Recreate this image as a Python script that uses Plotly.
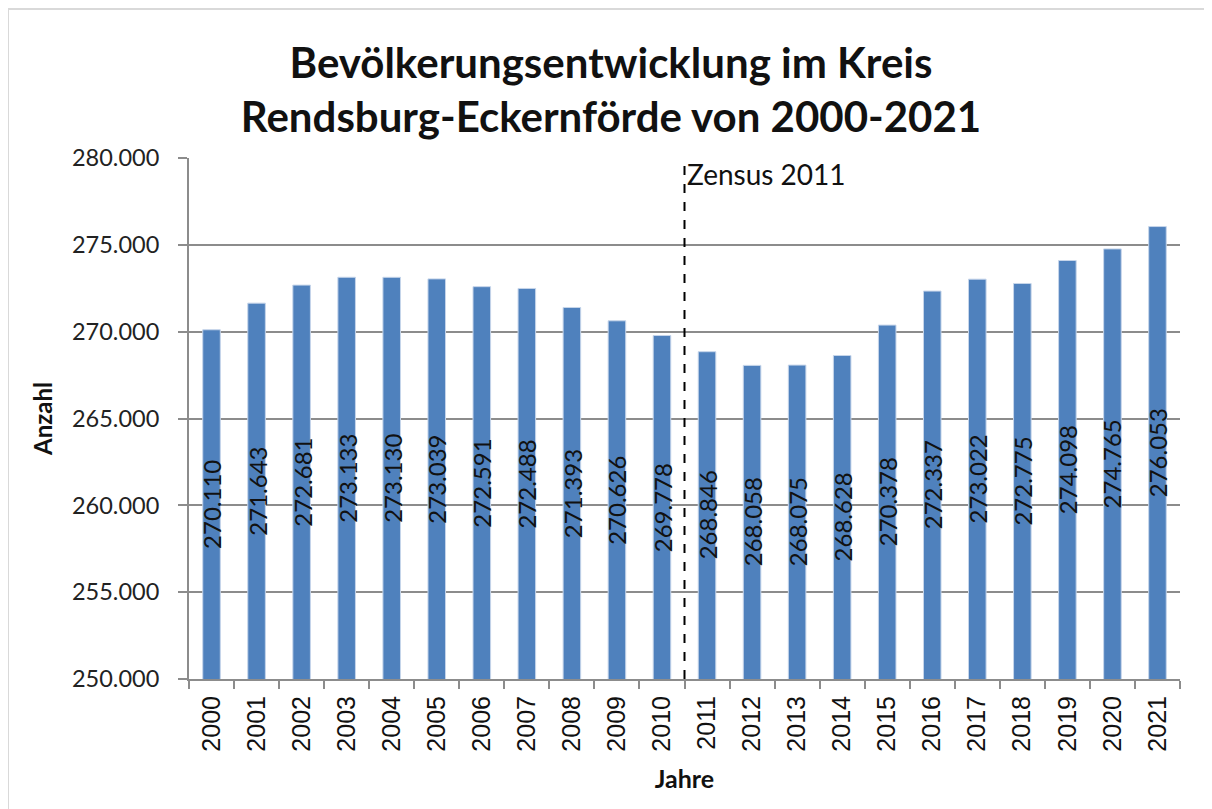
import plotly.graph_objects as go

years = [str(y) for y in range(2000, 2022)]
population = [270110, 271643, 272681, 273133, 273130, 273039, 272591, 272488,
              271393, 270626, 269778, 268846, 268058, 268075, 268628, 270378,
              272337, 273022, 272775, 274098, 274765, 276053]
y_ticks = [250000, 255000, 260000, 265000, 270000, 275000, 280000]
y_min, y_max = 250000, 280000
census_label = "Zensus 2011"
census_break_after = "2010"

# page offset of 8px (browser body margin) is compensated in the figure size
W, H = 1204, 801
L, R, T, B = 181, 32, 150, 130
pw, ph = W - L - R, H - T - B

def px(x):
    return (x - L) / pw

def py(y):
    return (H - B - y) / ph

FONT = "Lato, Open Sans, sans-serif"
grid = "#8C8C8C"

fig = go.Figure()
fig.add_trace(go.Bar(
    x=years, y=population,
    marker=dict(color="#4F81BD", line=dict(color="#C6D5EA", width=1)),
    width=0.39,
    hoverinfo="x+y",
))

# data labels, centred in each bar, rotated (x given as category index)
for i, v in enumerate(population):
    fig.add_annotation(
        x=i, y=(y_min + v) / 2, xref="x", yref="y",
        text=f"{v:,}".replace(",", "."), textangle=-90, showarrow=False,
        font=dict(family=FONT, size=24, color="#111111"),
    )

fig.update_layout(
    width=W, height=H,
    margin=dict(l=L, r=R, t=T, b=B, pad=0),
    paper_bgcolor="white", plot_bgcolor="white",
    separators=",.",
    showlegend=False,
    title=dict(
        text="<b>Bevölkerungsentwicklung im Kreis<br>Rendsburg-Eckernförde von 2000-2021</b>",
        x=603 / W, xanchor="center", xref="container",
        y=1 - 69.5 / H, yanchor="middle", yref="container",
        font=dict(family=FONT, size=42, color="#111111"),
    ),
    xaxis=dict(
        type="category", tickangle=-90, tickson="boundaries",
        range=[-0.5, len(years) - 0.5],
        ticks="outside", ticklen=8, tickcolor=grid, tickwidth=2,
        showline=True, linecolor=grid, linewidth=2,
        showgrid=False,
        ticklabelstandoff=5,
        tickfont=dict(family="Liberation Sans, Arial, sans-serif", size=25, color="#111111"),
        title=dict(text="<b>Jahre</b>", standoff=20,
                   font=dict(family=FONT, size=25, color="#111111")),
    ),
    yaxis=dict(
        range=[y_min, y_max], tickvals=y_ticks, tickformat=",.0f",
        ticks="outside", ticklen=9, tickcolor=grid, tickwidth=2,
        showline=True, linecolor=grid, linewidth=2,
        showgrid=True, gridcolor=grid, gridwidth=2,
        zeroline=False,
        ticklabelstandoff=14,
        tickfont=dict(family=FONT, size=23.5, color="#222222"),
        title=dict(text="<b>Anzahl</b>", standoff=13,
                   font=dict(family=FONT, size=24, color="#111111")),
    ),
)

bx = years.index(census_break_after) + 0.5
fig.add_shape(type="line", xref="x", yref="paper", x0=bx, x1=bx, y0=0, y1=1,
              line=dict(color="black", width=2, dash="dash"))
fig.add_annotation(x=bx, xref="x", y=1, yref="paper", text=census_label,
                   showarrow=False, xanchor="left", yanchor="top", xshift=0, yshift=3,
                   font=dict(family=FONT, size=28, color="#111111"))

# chart border (top and left edges visible in the reference)
fig.add_shape(type="line", xref="paper", yref="paper",
              x0=px(0), x1=px(1230), y0=py(1), y1=py(1),
              line=dict(color="#D9D9D9", width=2), layer="below")
fig.add_shape(type="line", xref="paper", yref="paper",
              x0=px(0), x1=px(0), y0=py(1), y1=py(830),
              line=dict(color="#D9D9D9", width=2), layer="below")

fig.write_html("out.html")
